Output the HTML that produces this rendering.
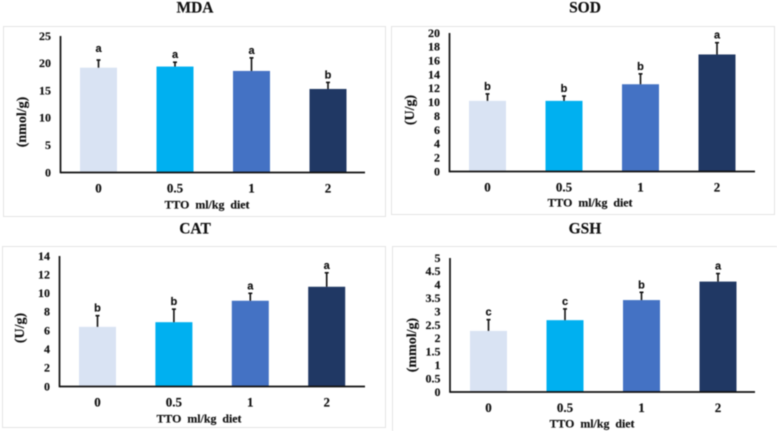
<!DOCTYPE html>
<html lang="en">
<head>
<meta charset="utf-8">
<title>TTO antioxidant bar charts</title>
<style>
html,body{margin:0;padding:0;background:#fff;width:777px;height:431px;overflow:hidden}
svg{display:block;filter:blur(0.45px)}
text{font-family:"Liberation Serif",serif;font-weight:bold;fill:#111;stroke:#111;stroke-width:0.15px}
.sig{font-family:"Liberation Sans",sans-serif;font-size:11px;text-anchor:middle}
</style>
</head>
<body>
<svg id="chart" xmlns="http://www.w3.org/2000/svg" width="777" height="431" viewBox="0 0 777 431"></svg>
<script>
// Shared categories and colours
const categories = ['0', '0.5', '1', '2'];
const barColors = ['#d9e3f3', '#00b0f0', '#4472c4', '#203864'];

// MDA
const mdaValues = [19.2, 19.4, 18.6, 15.3];
const mdaErrors = [1.4, 0.8, 2.4, 1.2];
const mdaLetters = ['a', 'a', 'a', 'b'];
const mdaTicks = ['0', '5', '10', '15', '20', '25'];

// SOD
const sodValues = [10.2, 10.2, 12.6, 16.9];
const sodErrors = [1.0, 0.7, 1.5, 1.7];
const sodLetters = ['b', 'b', 'b', 'a'];
const sodTicks = ['0', '2', '4', '6', '8', '10', '12', '14', '16', '18', '20'];

// CAT
const catValues = [6.4, 6.9, 9.2, 10.7];
const catErrors = [1.2, 1.4, 0.8, 1.5];
const catLetters = ['b', 'b', 'a', 'a'];
const catTicks = ['0', '2', '4', '6', '8', '10', '12', '14'];

// GSH
const gshValues = [2.28, 2.68, 3.43, 4.12];
const gshErrors = [0.42, 0.42, 0.29, 0.30];
const gshLetters = ['c', 'c', 'b', 'a'];
const gshTicks = ['0', '0.5', '1', '1.5', '2', '2.5', '3', '3.5', '4', '4.5', '5'];

const panels = [
  {key:'mda', title:'MDA', unit:'(nmol/g)', values:mdaValues, errors:mdaErrors, letters:mdaLetters, ticks:mdaTicks,
   frame:[3,26,382,190], axisX:60.5, top:36, base:172.5, end:365, first:98.5, step:76.5,
   titleX:195, titleY:12.5, unitX:26, unitY:122, xLabelX:207, xLabelY:208.5, liftFirst:4},
  {key:'sod', title:'SOD', unit:'(U/g)', values:sodValues, errors:sodErrors, letters:sodLetters, ticks:sodTicks,
   frame:[391,26,383,188], axisX:449.5, top:33, base:171.5, end:755, first:487.5, step:76.5,
   titleX:585, titleY:12.5, unitX:414, unitY:110, xLabelX:590, xLabelY:206.5, liftFirst:0},
  {key:'cat', title:'CAT', unit:'(U/g)', values:catValues, errors:catErrors, letters:catLetters, ticks:catTicks,
   frame:[2,246,383,181], axisX:59.5, top:256, base:386.5, end:365, first:97.5, step:76.4,
   titleX:195, titleY:233.5, unitX:24, unitY:328, xLabelX:199, xLabelY:422.5, liftFirst:0},
  {key:'gsh', title:'GSH', unit:'(mmol/g)', values:gshValues, errors:gshErrors, letters:gshLetters, ticks:gshTicks,
   frame:[392,246,386,190], axisX:450, top:258, base:392, end:755, first:488.5, step:76.5,
   titleX:585, titleY:233.5, unitX:416, unitY:345, xLabelX:592, xLabelY:427.5, liftFirst:0}
];

const NS = 'http://www.w3.org/2000/svg';
const svg = document.getElementById('chart');

function make(tag, attrs, parent, content) {
  const el = document.createElementNS(NS, tag);
  for (const k in attrs) el.setAttribute(k, attrs[k]);
  if (content !== undefined) el.textContent = content;
  parent.appendChild(el);
  return el;
}

panels.forEach(function (p) {
  const group = make('g', {}, svg);
  
  

  const tickMax = parseFloat(p.ticks[p.ticks.length - 1]);
  const yScale = function (v) { return p.base - (v / tickMax) * (p.base - p.top); };
  const xScale = function (i) { return p.first + i * p.step; };

  const frame = make('rect', {x:p.frame[0] + 0.5, y:p.frame[1] + 0.5, width:p.frame[2], height:p.frame[3], fill:'#fff', stroke:'#e4e4e4', 'stroke-width':1}, group);
  
  

  const title = make('text', {x:p.titleX, y:p.titleY, 'text-anchor':'middle', 'font-size':15.5}, group, p.title);
  
  

  p.values.forEach(function (v, i) {
    const cx = xScale(i);
    const y = yScale(v);
    const bar = make('rect', {x:cx - 18.5, y:y, width:37, height:p.base - y, fill:barColors[i]}, group);
    
    

    const errTop = yScale(v + p.errors[i]);
    const stem = make('line', {x1:cx, x2:cx, y1:y, y2:errTop, stroke:'#111', 'stroke-width':1.6}, group);
    
    
    const cap = make('line', {x1:cx - 2, x2:cx + 2, y1:errTop, y2:errTop, stroke:'#111', 'stroke-width':1.6}, group);
    
    

    const lift = i === 0 ? p.liftFirst : 0;
    const letter = make('text', {x:cx, y:errTop - 4 - lift, 'class':'sig'}, group, p.letters[i]);
    
    

    const cat = make('text', {x:cx, y:p.base + 20, 'text-anchor':'middle', 'font-size':13}, group, categories[i]);
    
    
  });

  p.ticks.forEach(function (t) {
    const label = make('text', {x:p.axisX - 9.5, y:yScale(parseFloat(t)) + 3.8, 'text-anchor':'end', 'font-size':12}, group, t);
    
    
  });

  const yAxis = make('line', {x1:p.axisX, x2:p.axisX, y1:p.top, y2:p.base + 0.8, stroke:'#111', 'stroke-width':1.7}, group);
  
  
  const xAxis = make('line', {x1:p.axisX, x2:p.end, y1:p.base, y2:p.base, stroke:'#111', 'stroke-width':1.7}, group);
  
  

  const yTitle = make('text', {x:0, y:0, transform:'translate(' + p.unitX + ' ' + p.unitY + ') rotate(-90)', 'text-anchor':'middle', 'font-size':14}, group, p.unit);
  
  

  const xTitle = make('text', {x:p.xLabelX, y:p.xLabelY, 'text-anchor':'middle', 'font-size':11.9, style:'white-space:pre'}, group, 'TTO  ml/kg  diet');
  
  
});
</script>
</body>
</html>
